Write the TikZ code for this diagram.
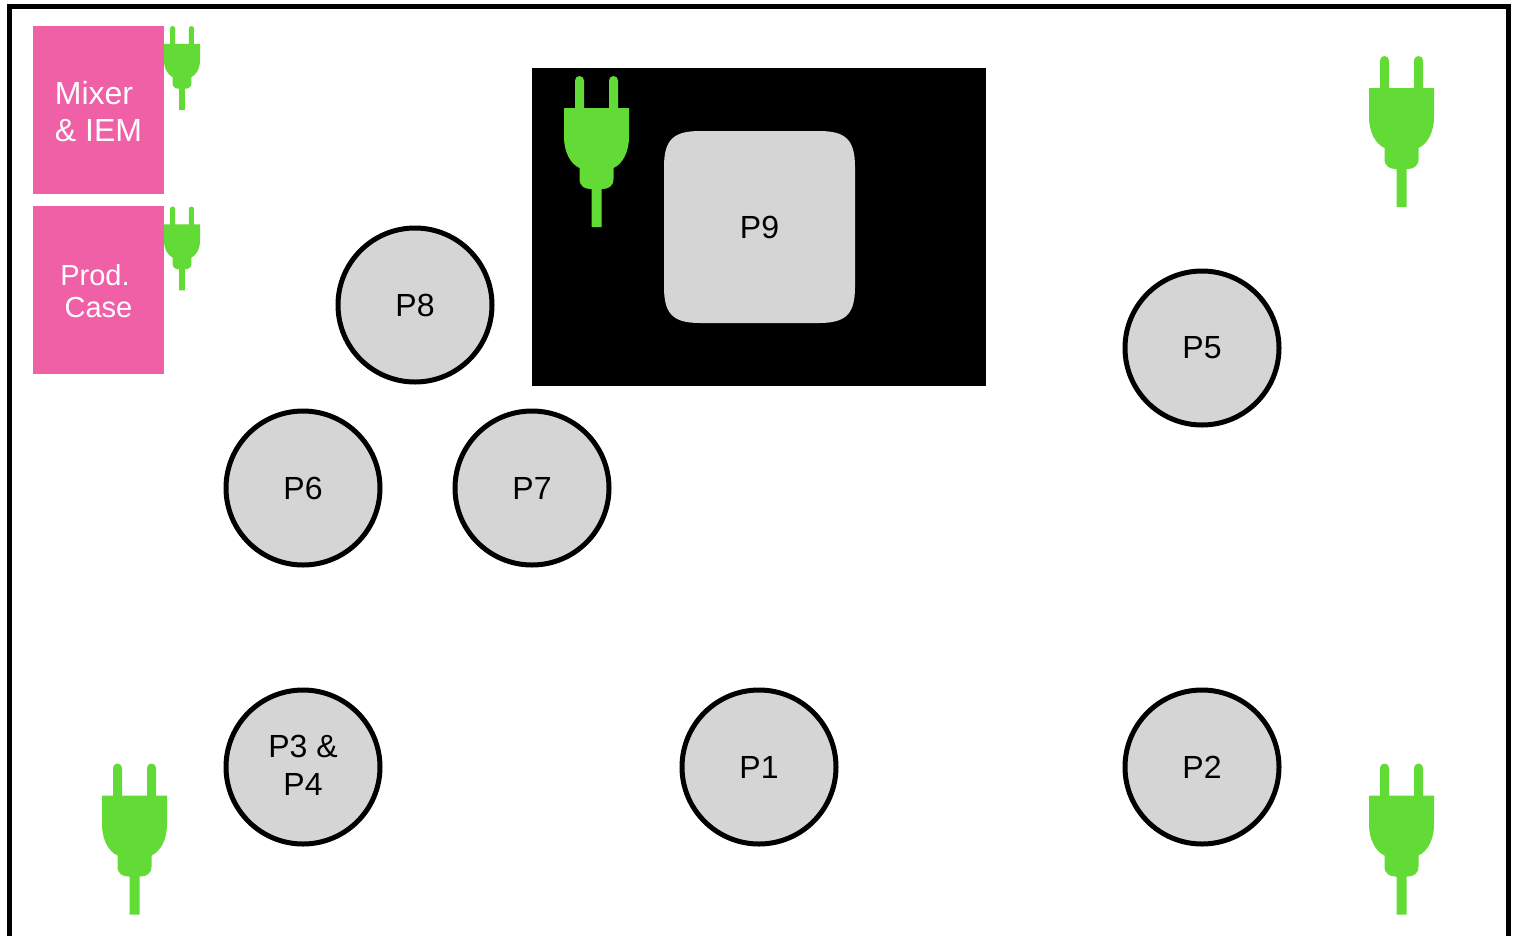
\documentclass[tikz,border=0pt]{standalone}
\usepackage{fontspec}
\setmainfont{Liberation Sans}
\definecolor{plugc}{HTML}{63DB37}
\definecolor{pinkc}{HTML}{F060A7}
\definecolor{greyc}{HTML}{D5D5D5}
\tikzset{
  plugicon/.pic={
    \fill[plugc] (-17,4.5) circle (4.5) (17,4.5) circle (4.5);
    \fill[plugc] (-21.5,4.5) rectangle (-12.5,40) (12.5,4.5) rectangle (21.5,40);
    \fill[plugc] (-32.5,32) -- (32.5,32) -- (32.5,61)
      .. controls (32.5,76) and (26,88) .. (17,92)
      -- (17,103) .. controls (17,110) and (12,113) .. (6,113)
      -- (5,113) -- (5,151) -- (-5,151) -- (-5,113) -- (-6,113)
      .. controls (-12,113) and (-17,110) .. (-17,103)
      -- (-17,92) .. controls (-26,88) and (-32.5,76) .. (-32.5,61) -- cycle;
  },
  seat/.style={circle,draw=black,line width=5pt,fill=greyc,minimum size=154pt,inner sep=0pt,
    font=\fontsize{32}{38}\selectfont},
  pinkbox/.style={fill=pinkc,minimum width=131pt,minimum height=168pt,inner sep=0pt},
}
\begin{document}
\begin{tikzpicture}[x=1pt,y=-1pt]
\useasboundingbox (0,0) rectangle (1518,935);
\fill[white] (0,0) rectangle (1518,935);
\draw[line width=5pt,black] (9.5,6) rectangle (1508.5,960);
\node[pinkbox] (mixer) at (98.5,110) {};
\node[pinkbox] (prod) at (98.5,290) {};
\node[text=white,align=left,inner sep=0pt,font=\fontsize{32}{37}\selectfont] (mixertext) at ([yshift=-2pt]mixer.center) {Mixer\\\& IEM};
\node[text=white,align=center,inner sep=0pt,font=\fontsize{29}{32}\selectfont] (prodtext) at ([yshift=-1pt]prod.center) {\hbox{Prod.\kern7pt}\\Case};
\node[fill=black,minimum width=454pt,minimum height=318pt,inner sep=0pt] (stage) at (759,227) {};
\fill[greyc] (664,167) .. controls (664,140) and (673,131) .. (700,131)
  -- (819,131) .. controls (846,131) and (855,140) .. (855,167)
  -- (855,287) .. controls (855,314) and (846,323) .. (819,323)
  -- (700,323) .. controls (673,323) and (664,314) .. (664,287) -- cycle;
\node[inner sep=0pt,font=\fontsize{32}{38}\selectfont] (p9) at (759.5,227) {P9};
\node[seat] (p8) at (415,305) {P8};
\node[seat] (p6) at (303,488) {P6};
\node[seat] (p7) at (532,488) {P7};
\node[seat] (p5) at (1202,348) {P5};
\node[seat] (p34) at (303,767) {};
\node[align=center,inner sep=0pt,font=\fontsize{32}{38}\selectfont] (p34text) at ([yshift=2pt]p34.center) {P3 \&\\P4};
\node[seat] (p1) at (759,767) {P1};
\node[seat] (p2) at (1202,767) {P2};
\pic[scale=.555] at (182,26) {plugicon};
\pic[scale=.555] at (182,206.5) {plugicon};
\pic at (596.5,76) {plugicon};
\pic at (1401.5,56) {plugicon};
\pic at (134.5,763.5) {plugicon};
\pic at (1401.5,763.5) {plugicon};
\end{tikzpicture}
\end{document}
